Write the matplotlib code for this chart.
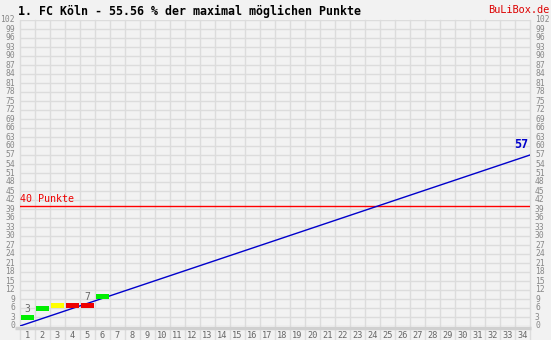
import matplotlib
matplotlib.use("Agg")
import matplotlib.pyplot as plt
import numpy as np

# data
team = "1. FC Köln"
percent = 55.56
rounds = [1, 2, 3, 4, 5, 6]
points = [3, 6, 7, 7, 7, 10]
bar_colors = ["#00ee00", "#00ee00", "#ffff00", "#ee0000", "#ee0000", "#00ee00"]
labelled_rounds = [1, 5]          # rounds with a point label above the bar
n_rounds = 34
projected = 57
target = 40
y_ticks = list(range(0, 103, 3))

W, H = 551, 340
BG = "#f2f2f2"
GRID = "#dcdcdc"
MONO = "DejaVu Sans Mono"

fig = plt.figure(figsize=(W / 100, H / 100), dpi=100, facecolor=BG)
# plot area in pixels: x 20..530, y 20..326
ax = fig.add_axes([20 / W, (H - 326) / H, 510 / W, 306 / H])
ax.set_facecolor(BG)
ax.set_xlim(0.5, n_rounds + 0.5)
ax.set_ylim(0, 102)
for s in ax.spines.values():
    s.set_visible(False)
ax.set_xticks([])
ax.set_yticks([])

# grid
for y in y_ticks:
    ax.axhline(y, color=GRID, lw=1, zorder=1)
px_y = 102 / 306  # data units per pixel
for i in range(n_rounds + 1):
    ax.plot([i + 0.5, i + 0.5], [-14 * px_y, 102], color=GRID, lw=1,
            clip_on=False, zorder=1)
# bottom band
ax.plot([0.17, n_rounds + 0.55], [-0.7 * px_y * 3, -0.7 * px_y * 3], color="#d0d0d0",
        lw=2.5, clip_on=False, zorder=2, solid_capstyle="butt")

# round labels
for r in range(1, n_rounds + 1):
    ax.text(r, -9.5 * px_y, str(r), ha="center", va="center", fontsize=6.2,
            family=MONO, color="#666666")

# y labels both sides
for y in y_ticks:
    fig.text(15 / W, 1 - (326 - y * 3) / H, str(y), ha="right", va="center",
             fontsize=5.8, family=MONO, color="#888888")
    fig.text(535 / W, 1 - (326 - y * 3) / H, str(y), ha="left", va="center",
             fontsize=5.8, family=MONO, color="#888888")

# target line
ax.axhline(target, color="#ff0000", lw=1, zorder=3)
ax.text(0.5, target + 0.6, f"{target} Punkte", ha="left", va="bottom",
        fontsize=7.2, family=MONO, color="#ee0000")

# projection
ax.plot([0.5, n_rounds + 0.5], [0, projected], color="#0000cc", lw=1, zorder=4)
ax.text(n_rounds + 0.4, projected + 1.5, str(projected), ha="right", va="bottom",
        fontsize=8.5, family=MONO, fontweight="bold", color="#0000cc")

# point bars
ax.bar(rounds, [1.7] * len(rounds), bottom=np.array(points) - 1.0, width=0.85,
       color=bar_colors, zorder=5)
for r in labelled_rounds:
    ax.text(r, points[r - 1] + 1.0, str(points[r - 1]), ha="center", va="bottom",
            fontsize=7, family=MONO, color="#666666")

fig.text(18 / W, 1 - 11 / H, f"{team} - {percent:.2f} % der maximal möglichen Punkte",
         ha="left", va="center", fontsize=8.4, family=MONO, fontweight="bold",
         color="black")
fig.text(549 / W, 1 - 10 / H, "BuLiBox.de", ha="right", va="center",
         fontsize=7.4, family=MONO, color="#dd0000")

fig.savefig("out.png", dpi=100, facecolor=BG)
